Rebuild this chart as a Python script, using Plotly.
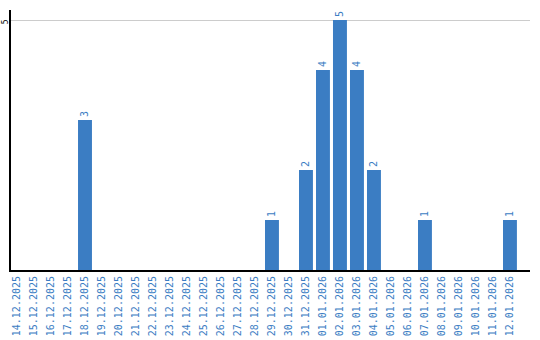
import plotly.graph_objects as go

dates = ["14.12.2025","15.12.2025","16.12.2025","17.12.2025","18.12.2025","19.12.2025",
         "20.12.2025","21.12.2025","22.12.2025","23.12.2025","24.12.2025","25.12.2025",
         "26.12.2025","27.12.2025","28.12.2025","29.12.2025","30.12.2025","31.12.2025",
         "01.01.2026","02.01.2026","03.01.2026","04.01.2026","05.01.2026","06.01.2026",
         "07.01.2026","08.01.2026","09.01.2026","10.01.2026","11.01.2026","12.01.2026"]
counts = [0,0,0,0,3,0,0,0,0,0,0,0,0,0,0,1,0,2,4,5,4,2,0,0,1,0,0,0,0,1]

blue = "#3b7dc3"
labels = [str(v) if v else "" for v in counts]

fig = go.Figure(go.Bar(
    x=list(range(len(dates))), y=counts, text=labels, textposition="outside",
    textangle=-90, cliponaxis=False,
    textfont=dict(color=blue, size=10, family="DejaVu Sans Mono"),
    marker=dict(color=blue, line=dict(width=0)),
))
fig.update_layout(
    width=540, height=340, margin=dict(l=11, r=10, t=10, b=70),
    plot_bgcolor="white", paper_bgcolor="white", showlegend=False, bargap=0.18,
    xaxis=dict(tickmode="array", tickvals=list(range(len(dates))), ticktext=dates,
               tickangle=-90, range=[-0.353, 30.18], showgrid=False, automargin=False,
               showline=True, linecolor="black", linewidth=2, ticks="",
               tickfont=dict(color=blue, size=10, family="DejaVu Sans Mono")),
    yaxis=dict(range=[0, 5.2], tickvals=[5], ticktext=["5"], tickangle=-90,
               showgrid=True, gridcolor="#cccccc", gridwidth=1, zeroline=False,
               automargin=False, ticklabelstandoff=-2, ticklabelshift=3,
               showline=True, linecolor="black", linewidth=1.5, ticks="",
               tickfont=dict(color="black", size=8, family="DejaVu Sans Mono")),
)
fig.write_html("out.html")
